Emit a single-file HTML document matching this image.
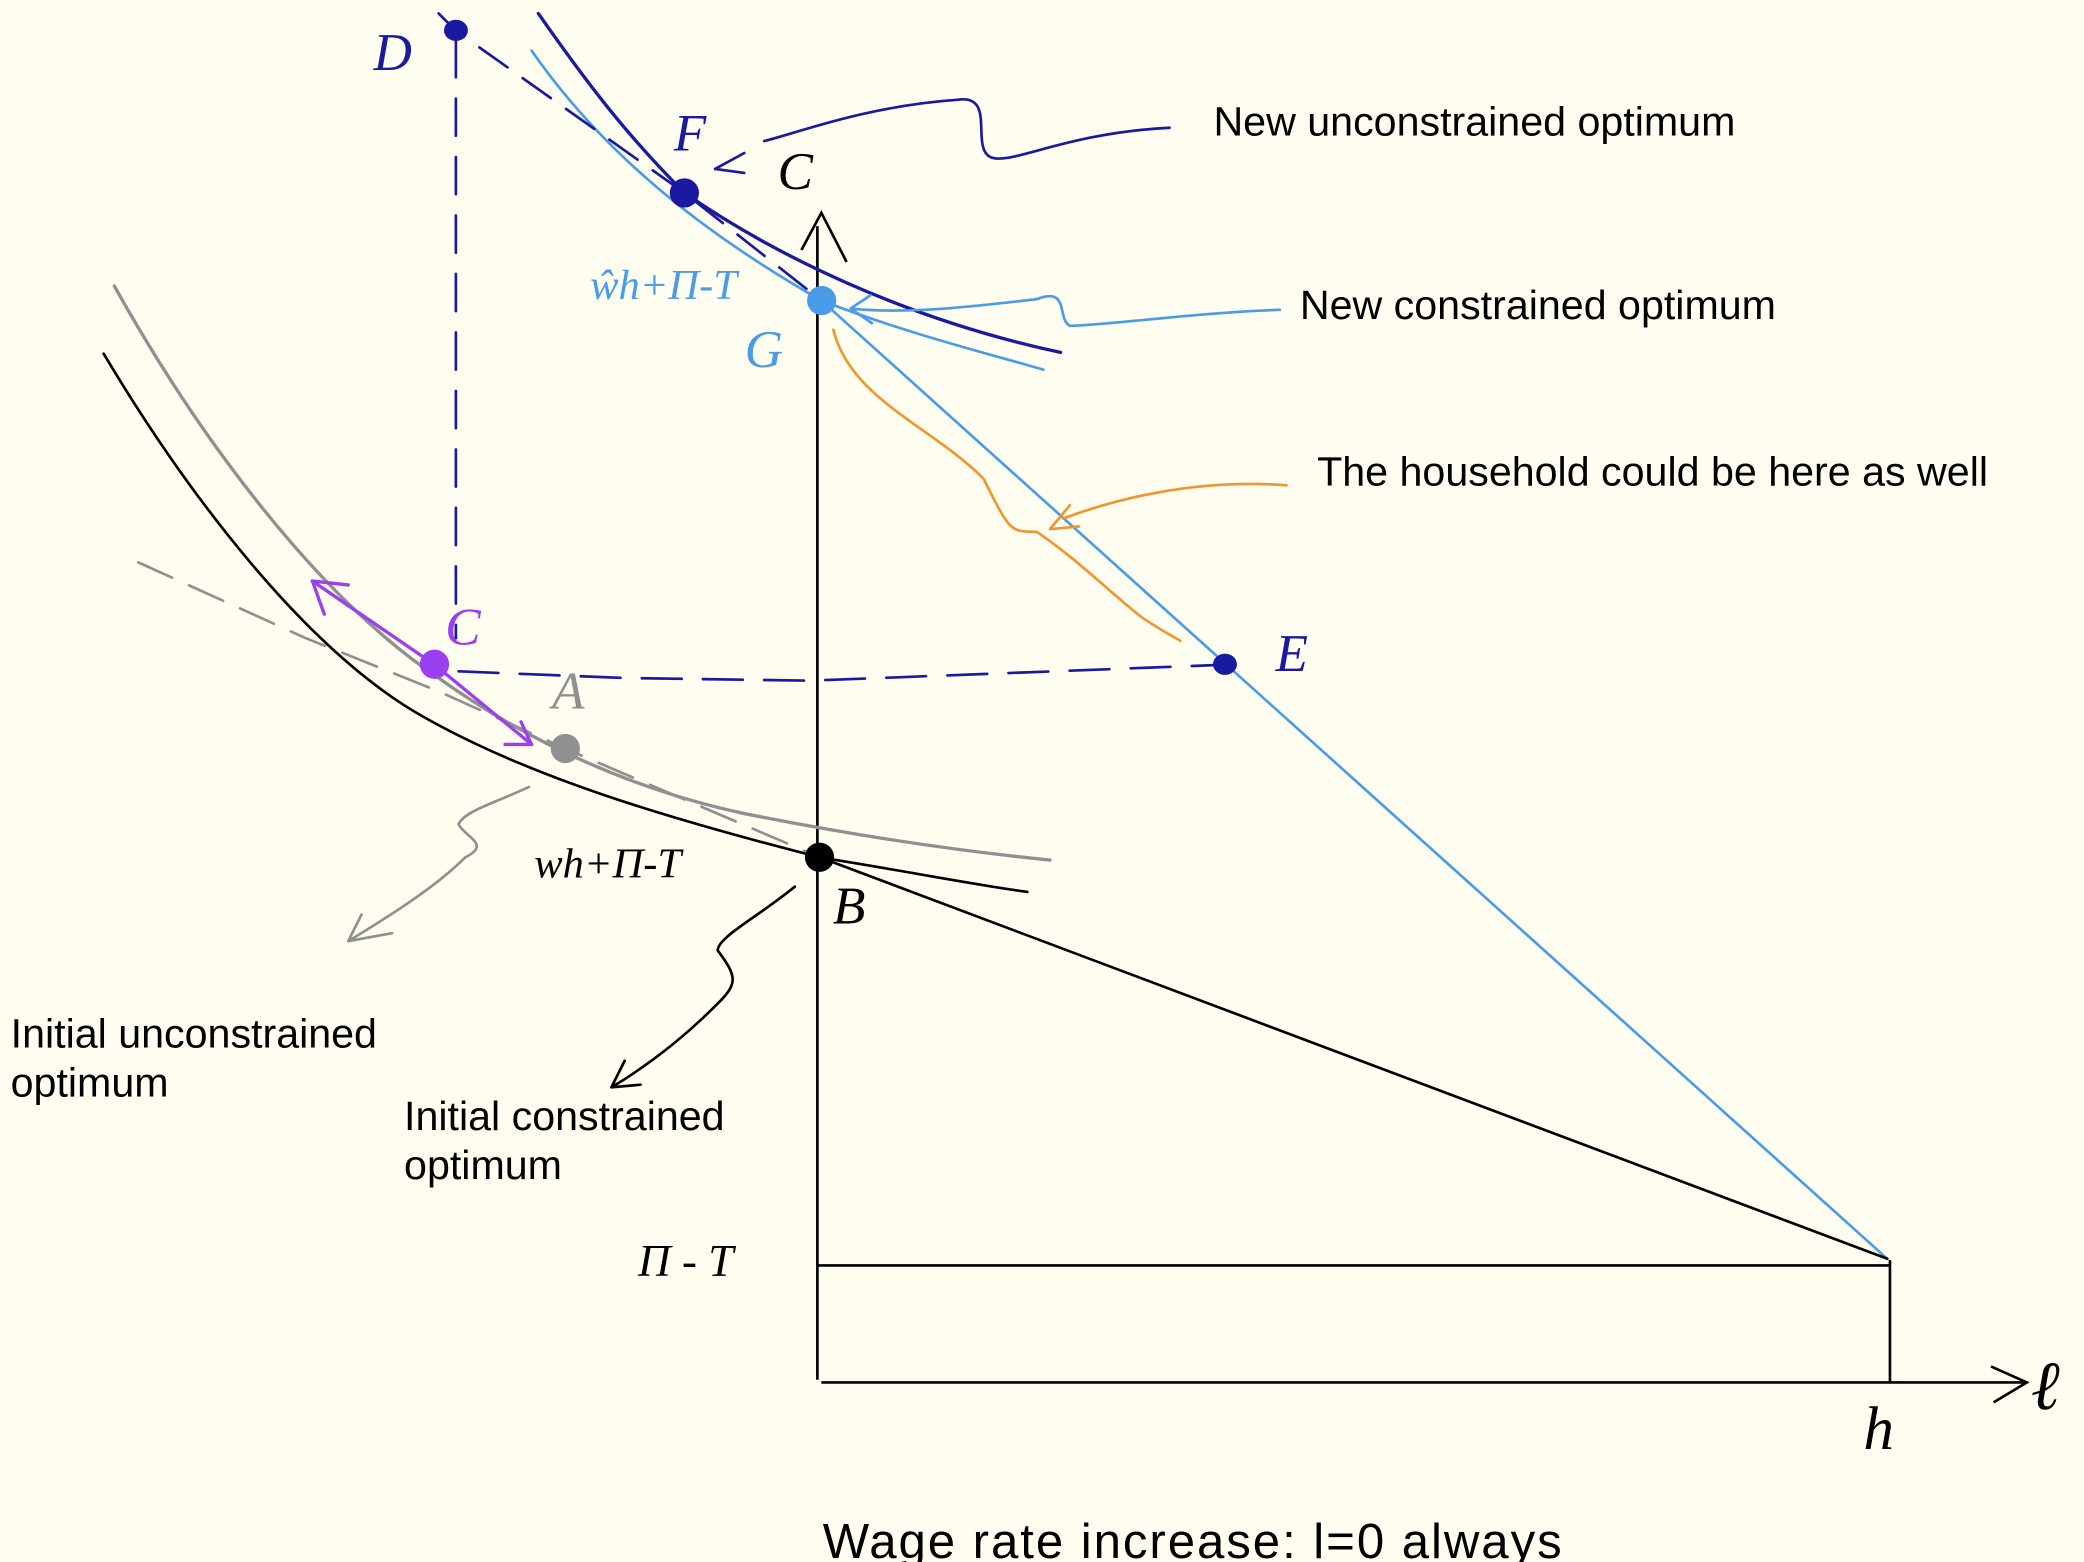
<!DOCTYPE html>
<html><head><meta charset="utf-8">
<style>
html,body{margin:0;padding:0;background:#fefdf0;}
svg{display:block;}
.lbl{font-family:"Liberation Sans",sans-serif;font-size:31px;fill:#000;}
.hand{font-family:"Liberation Serif",serif;font-style:italic;}
</style></head>
<body>
<svg id="chart" width="2084" height="1562" viewBox="0 0 1568 1175" xmlns="http://www.w3.org/2000/svg">
<rect width="1568" height="1175" fill="#fefdf0"/>

<g stroke="#000" stroke-width="2" fill="none">
  <line x1="615" y1="170" x2="615" y2="1038"/>
  <polyline points="603,188 618,160 637,197"/>
  <line x1="618" y1="1040" x2="1525" y2="1040"/>
  <polyline points="1498,1028 1525,1040 1500,1055"/>
  <line x1="615" y1="952" x2="1422" y2="952"/>
  <line x1="1422" y1="948" x2="1422" y2="1040"/>
</g>
<text x="585" y="142" class="hand" font-size="40">C</text>
<text x="1528" y="1060" class="hand" font-size="52">ℓ</text>
<text x="1402" y="1090" class="hand" font-size="46">h</text>
<text x="480" y="960" class="hand" font-size="34">Π - T</text>
<text x="402" y="660" class="hand" font-size="32">wh+Π-T</text>
<text x="444" y="225" class="hand" font-size="32" fill="#4a9be8">ŵh+Π-T</text>

<g fill="none" stroke-linecap="round">
  <path d="M86,215 C150,330 240,450 330,510 C400,560 480,595 560,612 C640,628 720,640 790,647" stroke="#909090" stroke-width="2.5"/>
  <path d="M78,266 C140,370 230,490 320,540 C400,585 500,615 617,645 C680,655 730,665 773,671" stroke="#000" stroke-width="2"/>
  <path d="M104,423 L230,480 L330,520 L425,563 L617,645" stroke="#909090" stroke-width="2" stroke-dasharray="28,14"/>
  <path d="M405,10 C440,60 470,100 515,145 C580,190 680,240 798,265" stroke="#1a1aa0" stroke-width="2.5"/>
  <path d="M400,38 C450,110 520,170 618,226 C680,250 740,265 785,278" stroke="#4a9be8" stroke-width="2"/>
  <path d="M330,10 L343,23 L515,145 L618,226" stroke="#1a1aa0" stroke-width="2" stroke-dasharray="26,14"/>
  <line x1="343" y1="30" x2="343" y2="480" stroke="#1a1aa0" stroke-width="2" stroke-dasharray="28,16"/>
  <path d="M345,505 L470,510 L610,512 L922,500" stroke="#1a1aa0" stroke-width="2" stroke-dasharray="30,16"/>
  <path d="M618,226 L1420,947" stroke="#4a9be8" stroke-width="2"/>
  <path d="M617,645 L1420,947" stroke="#000" stroke-width="2"/>
  <path d="M235,437 L327,500 L400,560" stroke="#9b3ff0" stroke-width="2.5"/>
  <path d="M235,437 L262,440 M235,437 L244,462" stroke="#9b3ff0" stroke-width="2.5"/>
  <path d="M400,560 L380,560 M400,560 L392,543" stroke="#9b3ff0" stroke-width="2.5"/>
  <path d="M627,248 C640,300 700,320 740,360 C760,400 760,400 780,400 C810,420 840,450 860,465 C875,475 885,480 888,482" stroke="#f0962e" stroke-width="2"/>
  <path d="M968,365 C900,360 840,375 800,390 M790,398 L805,380 M790,398 L812,396" stroke="#f0962e" stroke-width="2"/>
  <path d="M880,96 C800,100 760,125 745,118 C730,110 750,70 720,75 C650,80 600,100 575,106 M538,127 L560,115 M538,127 L560,130" stroke="#1a1aa0" stroke-width="2"/>
  <path d="M963,233 C900,235 830,245 805,245 C795,240 805,215 780,225 C720,232 680,236 640,232 M640,232 L655,222 M640,232 L656,243" stroke="#4a9be8" stroke-width="2"/>
  <path d="M398,592 C370,605 350,610 345,620 C350,630 370,635 350,645 C330,665 300,685 262,708 M262,708 L295,702 M262,708 L272,688" stroke="#909090" stroke-width="2"/>
  <path d="M598,667 C570,690 540,705 540,715 C555,735 555,740 540,755 C515,780 490,800 460,818 M460,818 L482,816 M460,818 L470,798" stroke="#000" stroke-width="2"/>
</g>

<g id="points"></g>

<text x="913" y="102" class="lbl">New unconstrained optimum</text>
<text x="978" y="240" class="lbl">New constrained optimum</text>
<text x="991" y="365" class="lbl">The household could be here as well</text>
<text x="8" y="788" class="lbl">Initial unconstrained</text>
<text x="8" y="825" class="lbl">optimum</text>
<text x="304" y="850" class="lbl">Initial constrained</text>
<text x="304" y="887" class="lbl">optimum</text>
<text x="619" y="1172" class="lbl" font-size="37" style="font-size:37px" textLength="556">Wage rate increase: l=0 always</text>
</svg>
<script>
const pointNames = ["A","B","C","D","E","F","G"];
const pointLeisure = [-23.5, 0.2, -35.7, -33.7, 38.0, -12.4, 0.4];
const pointConsumption = [54.2, 44.9, 61.4, 115.6, 61.4, 101.7, 92.5];
const pointColors = ["#909090","#000000","#9b3ff0","#1a1aa0","#1a1aa0","#1a1aa0","#4a9be8"];
const labelDx = [-10, 10, 8, -62, 38, -8, -58];
const labelDy = [-30, 50, -15, 30, 5, -32, 50];
function xScale(v){return 615 + v*8.07;}
function yScale(v){return 1040 - v*8.8;}
const layer = document.getElementById('points');
const NS = "http://www.w3.org/2000/svg";
for (let i = 0; i < pointNames.length; i++) {
  const c = document.createElementNS(NS, 'ellipse');
  c.setAttribute('cx', xScale(pointLeisure[i]));
  c.setAttribute('cy', yScale(pointConsumption[i]));
  const big = (i === 0 || i === 1 || i === 2 || i === 5 || i === 6);
  c.setAttribute('rx', big ? 11 : 9);
  c.setAttribute('ry', big ? 11 : 8);
  c.setAttribute('fill', pointColors[i]);
  
  
  layer.appendChild(c);
  const t = document.createElementNS(NS, 'text');
  t.setAttribute('x', xScale(pointLeisure[i]) + labelDx[i]);
  t.setAttribute('y', yScale(pointConsumption[i]) + labelDy[i]);
  t.setAttribute('fill', pointColors[i]);
  t.setAttribute('font-family', '"Liberation Serif", serif');
  t.setAttribute('font-style', 'italic');
  t.setAttribute('font-size', '40');
  t.textContent = pointNames[i];
  
  
  layer.appendChild(t);
}
</script>
</body></html>
